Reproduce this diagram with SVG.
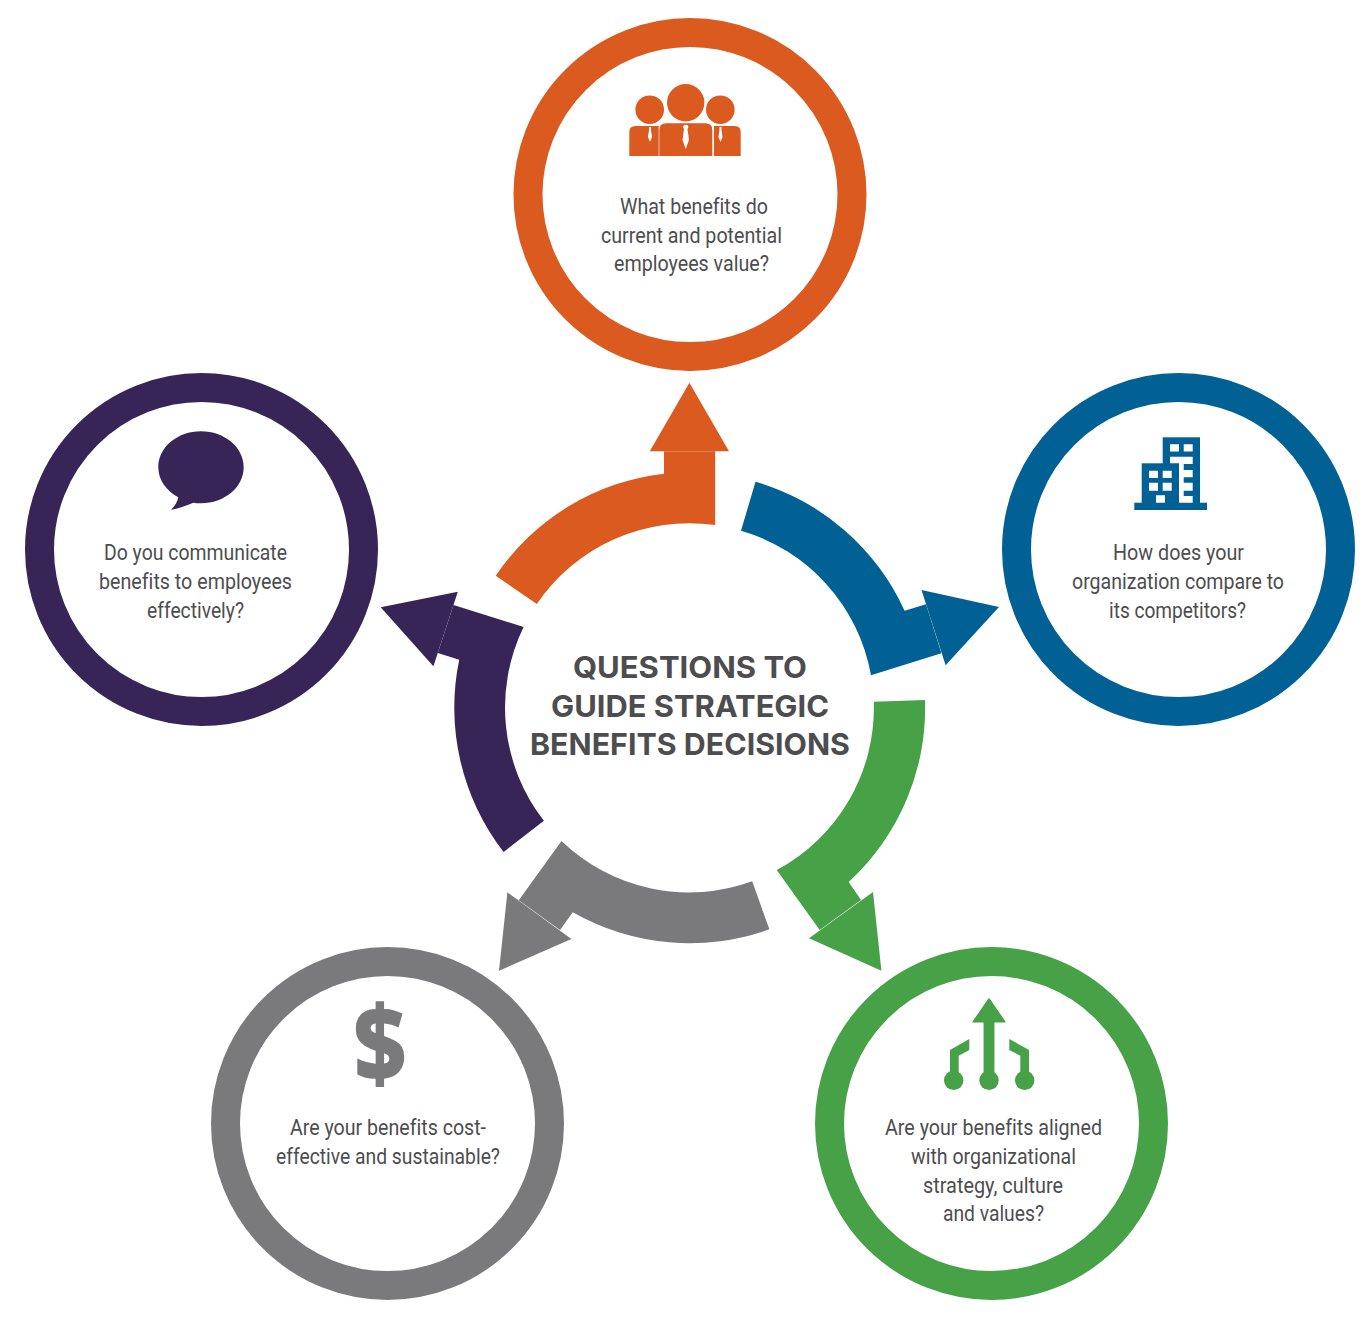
<svg xmlns="http://www.w3.org/2000/svg" width="1370" height="1322" viewBox="0 0 1370 1322">
<style>
.ring{fill:#fff;stroke-width:29}
.q{font-family:"Roboto","Liberation Sans",sans-serif;font-size:22.500px;fill:#4d4d4f;font-variant-ligatures:none}
.t{font-family:"Inter","Liberation Sans",sans-serif;font-size:30.5px;font-weight:700;fill:#4d4d4f}
.or{fill:#da5a1f}.bl{fill:#026194}.gr{fill:#46a147}.gy{fill:#7a7a7c}.pu{fill:#372557}
.w{fill:#fff}
</style>
<rect width="1370" height="1322" fill="#fff"/>
<g id="connectors">
<g class="or"><path d="M495.7 575.7A236 236 0 0 1 664 473.7V451.3H715.2V525A184 184 0 0 0 536.8 604Z"/><polygon points="649.8,451.3 689.4,382.7 729,451.3"/></g>
<g class="bl"><path d="M755.5 481.7A236 236 0 0 1 904.6 610.7L926 604.3L941.4 653.3L871 675.3A184 184 0 0 0 741 530.7Z"/><polygon points="921.5,590 999,607 945.6,665.3"/></g>
<g class="gr"><path d="M873.8 701.7L925 700A236 236 0 0 1 848.7 882L861 900L819.7 930L776.7 870A184 184 0 0 0 873.8 701.7Z"/><polygon points="873,892 881.4,970.7 809,938.3"/></g>
<g class="gy"><path d="M752.2 881.3L769.4 929.3A236 236 0 0 1 572.8 912.3L560 930L518.8 900.3L561.5 841A184 184 0 0 0 752.2 881.3Z"/><polygon points="571.4,939 499,970.7 507.4,892.3"/></g>
<g class="pu"><path d="M523.6 627L453.500 605L437.800 653L459.2 659.7A236 236 0 0 0 503.6 852L543.9 820.7A184 184 0 0 1 523.6 627Z"/><polygon points="457.8,591.7 380.7,607.3 433.4,666.3"/></g>
</g>
<g id="node-center">
<text class="t" x="690" y="678" text-anchor="middle" textLength="234" lengthAdjust="spacingAndGlyphs">QUESTIONS TO</text>
<text class="t" x="690" y="716.500" text-anchor="middle" textLength="278" lengthAdjust="spacingAndGlyphs">GUIDE STRATEGIC</text>
<text class="t" x="690" y="755" text-anchor="middle" textLength="320" lengthAdjust="spacingAndGlyphs">BENEFITS DECISIONS</text>
</g>
<g id="node-employees">
<circle class="ring" cx="690" cy="194.500" r="162" stroke="#da5a1f"/>
<g class="or">
<circle cx="685.700" cy="102.700" r="18.700"/><circle cx="649.700" cy="109.700" r="14.300"/><circle cx="720.300" cy="109.700" r="14.300"/>
<path d="M629.300 156V132Q629.300 126 635.300 126H658.700V156Z"/>
<path d="M659.300 156V130Q659.300 123.300 666 123.300H705.600Q712.300 123.300 712.300 130V156Z"/>
<path d="M714 156V126H734.700Q740.700 126 740.700 132V156Z"/>
</g>
<g class="w">
<polygon points="684,125 687.500,125 688.500,127 687.500,129 689,140 685.700,149 682.500,140 684,129 683,127"/>
<polygon points="649,127 651,127 651,130 652,137 650,142 648,137 649,130"/>
<polygon points="719.500,127 721.500,127 721.500,130 722.500,137 720.500,142 718.500,137 719.500,130"/>
</g>
<text class="q" x="694" y="214" text-anchor="middle" textLength="148" lengthAdjust="spacingAndGlyphs">What benefits do</text>
<text class="q" x="691.500" y="243" text-anchor="middle" textLength="181" lengthAdjust="spacingAndGlyphs">current and potential</text>
<text class="q" x="691.500" y="271" text-anchor="middle" textLength="155" lengthAdjust="spacingAndGlyphs">employees value?</text>
</g>
<g id="node-competitors">
<circle class="ring" cx="1178.500" cy="549.500" r="162" stroke="#026194"/>
<g class="bl"><rect x="1134.300" y="502.700" width="72.700" height="7.300"/><rect x="1141.700" y="463.300" width="37.300" height="40"/><rect x="1162.700" y="437.300" width="37.300" height="66"/></g>
<path class="w" d="M1170 444.300h9v7.300h-9zM1183.700 444.300h9v7.300h-9zM1170 456.700h22.700v6.600h-22.700zM1179 463.300h4.700v39.400h-4.700zM1183.700 463.300h9v.7h-9zM1183.700 470h9v7.300h-9zM1183.700 482.700h9v8h-9zM1183.700 496h9v6.700h-9zM1149 470.700h9v7.300h-9zM1162.700 470.700h9v7.300h-9zM1149 482.700h9v8h-9zM1162.700 482.700h9v8h-9zM1156 495.300h9v7.400h-9z"/>
<text class="q" x="1178.500" y="560" text-anchor="middle" textLength="131" lengthAdjust="spacingAndGlyphs">How does your</text>
<text class="q" x="1178" y="589" text-anchor="middle" textLength="212" lengthAdjust="spacingAndGlyphs">organization compare to</text>
<text class="q" x="1177.500" y="618" text-anchor="middle" textLength="137" lengthAdjust="spacingAndGlyphs">its competitors?</text>
</g>
<g id="node-aligned">
<circle class="ring" cx="991.500" cy="1123.500" r="162" stroke="#46a147"/>
<g class="gr">
<path d="M989 999L1004.700 1021.700H993.700V1075H984.300V1021.700H973.300Z" stroke="#46a147" stroke-width="1.500" stroke-linejoin="round"/>
<circle cx="989" cy="1080.300" r="9.700"/><circle cx="953.700" cy="1080.300" r="9.700"/><circle cx="1024.700" cy="1080.300" r="9.700"/>
<polygon points="969.300,1039 950,1050 950,1075 958.700,1075 958.700,1055.700 969.300,1050"/>
<polygon points="1009.300,1039 1029,1050 1029,1075 1020.300,1075 1020.300,1055.700 1009.300,1050"/>
</g>
<text class="q" x="993.500" y="1135" text-anchor="middle" textLength="217" lengthAdjust="spacingAndGlyphs">Are your benefits aligned</text>
<text class="q" x="993.500" y="1164" text-anchor="middle" textLength="165" lengthAdjust="spacingAndGlyphs">with organizational</text>
<text class="q" x="993" y="1193" text-anchor="middle" textLength="140" lengthAdjust="spacingAndGlyphs">strategy, culture</text>
<text class="q" x="993.500" y="1221" text-anchor="middle" textLength="101" lengthAdjust="spacingAndGlyphs">and values?</text>
</g>
<g id="node-cost">
<circle class="ring" cx="387.500" cy="1123.500" r="162" stroke="#7a7a7c"/>
<text transform="translate(380 1080.500) scale(0.88 1)" text-anchor="middle" font-family="Open Sans, sans-serif" font-weight="800" font-size="104" fill="#7a7a7c">$</text>
<text class="q" x="388" y="1135" text-anchor="middle" textLength="196" lengthAdjust="spacingAndGlyphs">Are your benefits cost-</text>
<text class="q" x="388" y="1164" text-anchor="middle" textLength="224" lengthAdjust="spacingAndGlyphs">effective and sustainable?</text>
</g>
<g id="node-communicate">
<circle class="ring" cx="201.500" cy="549.500" r="162" stroke="#372557"/>
<path class="pu" d="M201 431.300C224.600 431.300 243.700 447.400 243.700 467.300C243.700 487.200 224.600 503.300 201 503.300C198 503.300 195.500 503 193.300 502.700C186 505.500 178 508.800 171 509.700C175 506 177.500 501.500 178.300 497.300C166.500 491 158.300 480 158.300 467.300C158.300 447.400 177.400 431.300 201 431.300Z"/>
<text class="q" x="195.500" y="560" text-anchor="middle" textLength="183" lengthAdjust="spacingAndGlyphs">Do you communicate</text>
<text class="q" x="195.500" y="589" text-anchor="middle" textLength="193" lengthAdjust="spacingAndGlyphs">benefits to employees</text>
<text class="q" x="195.500" y="618" text-anchor="middle" textLength="97" lengthAdjust="spacingAndGlyphs">effectively?</text>
</g>
</svg>
